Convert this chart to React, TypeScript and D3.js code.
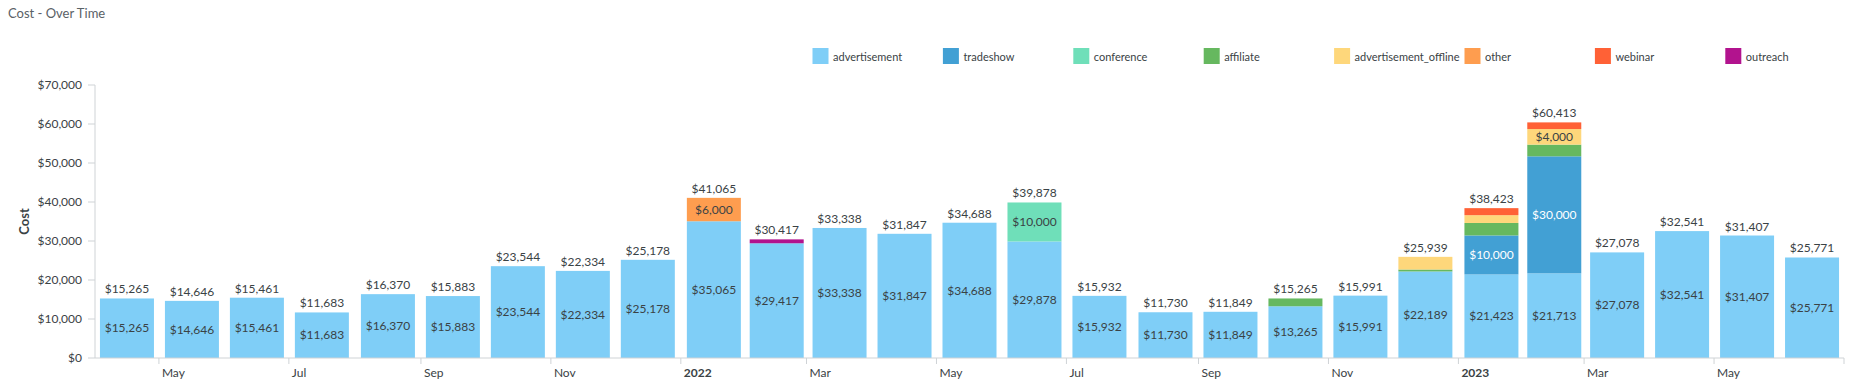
import React from "react";
import * as d3 from "d3";

const months = ["2021-04","2021-05","2021-06","2021-07","2021-08","2021-09","2021-10","2021-11","2021-12","2022-01","2022-02","2022-03","2022-04","2022-05","2022-06","2022-07","2022-08","2022-09","2022-10","2022-11","2022-12","2023-01","2023-02","2023-03","2023-04","2023-05","2023-06"];
const advertisement = [15265,14646,15461,11683,16370,15883,23544,22334,25178,35065,29417,33338,31847,34688,29878,15932,11730,11849,13265,15991,22189,21423,21713,27078,32541,31407,25771];
const tradeshow = [0,0,0,0,0,0,0,0,0,0,0,0,0,0,0,0,0,0,0,0,0,10000,30000,0,0,0,0];
const conference = [0,0,0,0,0,0,0,0,0,0,0,0,0,0,10000,0,0,0,0,0,0,0,0,0,0,0,0];
const affiliate = [0,0,0,0,0,0,0,0,0,0,0,0,0,0,0,0,0,0,2000,0,500,3200,3000,0,0,0,0];
const advertisement_offline = [0,0,0,0,0,0,0,0,0,0,0,0,0,0,0,0,0,0,0,0,3250,2000,4000,0,0,0,0];
const other = [0,0,0,0,0,0,0,0,0,6000,0,0,0,0,0,0,0,0,0,0,0,0,0,0,0,0,0];
const webinar = [0,0,0,0,0,0,0,0,0,0,0,0,0,0,0,0,0,0,0,0,0,1800,1700,0,0,0,0];
const outreach = [0,0,0,0,0,0,0,0,0,0,1000,0,0,0,0,0,0,0,0,0,0,0,0,0,0,0,0];
const yTicks = [0,10000,20000,30000,40000,50000,60000,70000];

const seriesNames = ["advertisement","tradeshow","conference","affiliate","advertisement_offline","other","webinar","outreach"];
const seriesValues = [advertisement,tradeshow,conference,affiliate,advertisement_offline,other,webinar,outreach];
const colors = ["#7fcef7","#42a0d4","#6fdfb9","#66b85f","#fed77b","#fe9d4f","#ff6136","#b2138e"];
const labelColors = ["#3a4245","#ffffff","#3a4245","#3a4245","#3a4245","#3a4245","#3a4245","#3a4245"];

const W = 1853, H = 388;
const left = 95, right = 1844, top = 85, bottom = 358;
const FONT = "Lato, 'Open Sans', sans-serif";
const TXT = "#3a4245";

export default function App() {
  const parse = d3.timeParse("%Y-%m");
  const dates = months.map((m) => parse(m) as Date);
  const start = dates[0];
  const end = d3.timeMonth.offset(dates[dates.length - 1], 1);
  const x = d3.scaleTime().domain([start, end]).range([left, right]);
  const y = d3.scaleLinear().domain([0, 70000]).range([bottom, top]);
  const fmt = (v: number) => "$" + d3.format(",")(Math.round(v));
  const barW = 54;

  const rows = dates.map((d, i) => {
    const o: any = { i };
    seriesNames.forEach((s, k) => (o[s] = seriesValues[k][i]));
    return o;
  });
  const stack = d3.stack<any>().keys(seriesNames)(rows);
  const totals = dates.map((_, i) => d3.sum(seriesValues, (s) => s[i]));

  const xTicks = x.ticks(d3.timeMonth.every(2) as any);
  const tickLabel = (d: Date) => (d.getMonth() === 0 ? d3.timeFormat("%Y")(d) : d3.timeFormat("%b")(d));

  const legendX0 = 812.5, legendDx = 130.4, legendY = 48;

  return (
    <svg width={W} height={H} style={{ position: "absolute", left: 0, top: 0, fontFamily: FONT }}>
      <text x={8} y={18} fontSize={13} fill="#5a6166">Cost - Over Time</text>

      {seriesNames.map((s, k) => (
        <g key={s} transform={`translate(${legendX0 + k * legendDx},${legendY})`}>
          <rect x={0} y={0} width={16} height={16} fill={colors[k]} />
          <text x={20.5} y={12.5} fontSize={11} fill={TXT}>{s}</text>
        </g>
      ))}

      {/* y axis */}
      <line x1={left} x2={left} y1={top} y2={bottom} stroke="#cfd3d6" />
      {yTicks.map((t) => (
        <g key={t}>
          <line x1={left - 7} x2={left} y1={y(t)} y2={y(t)} stroke="#cfd3d6" />
          <text x={left - 13} y={y(t)} dy="0.35em" textAnchor="end" fontSize={12} fill={TXT}>{fmt(t)}</text>
        </g>
      ))}
      <text transform={`translate(29,${(top + bottom) / 2}) rotate(-90)`} textAnchor="middle" fontSize={13} fontWeight="bold" fill={TXT}>Cost</text>

      {/* bars */}
      {stack.map((layer, k) => (
        <g key={seriesNames[k]}>
          {layer.map((seg, i) => {
            const h = y(seg[0]) - y(seg[1]);
            if (h <= 0) return null;
            const cx = (x(dates[i]) + x(d3.timeMonth.offset(dates[i], 1))) / 2;
            return (
              <g key={i}>
                <rect x={cx - barW / 2} y={y(seg[1])} width={barW} height={h} fill={colors[k]} />
                {h >= 15 && (
                  <text x={cx} y={(y(seg[0]) + y(seg[1])) / 2} dy="0.35em" textAnchor="middle" fontSize={12} fill={labelColors[k]}>
                    {fmt(seg[1] - seg[0])}
                  </text>
                )}
              </g>
            );
          })}
        </g>
      ))}
      {totals.map((t, i) => {
        const cx = (x(dates[i]) + x(d3.timeMonth.offset(dates[i], 1))) / 2;
        return (
          <text key={i} x={cx} y={y(t) - 5} textAnchor="middle" fontSize={12} fill={TXT}>{fmt(t)}</text>
        );
      })}

      {/* x axis */}
      <line x1={left} x2={right} y1={bottom} y2={bottom} stroke="#cfd3d6" />
      {xTicks.map((d, i) => (
        <g key={i}>
          <line x1={x(d)} x2={x(d)} y1={bottom} y2={bottom + 6} stroke="#cfd3d6" />
          {x(d) < right - 5 && (
            <text x={x(d) + 3} y={bottom + 19} fontSize={12} fontWeight={d.getMonth() === 0 ? "bold" : "normal"} fill={TXT}>
              {tickLabel(d)}
            </text>
          )}
        </g>
      ))}
    </svg>
  );
}
